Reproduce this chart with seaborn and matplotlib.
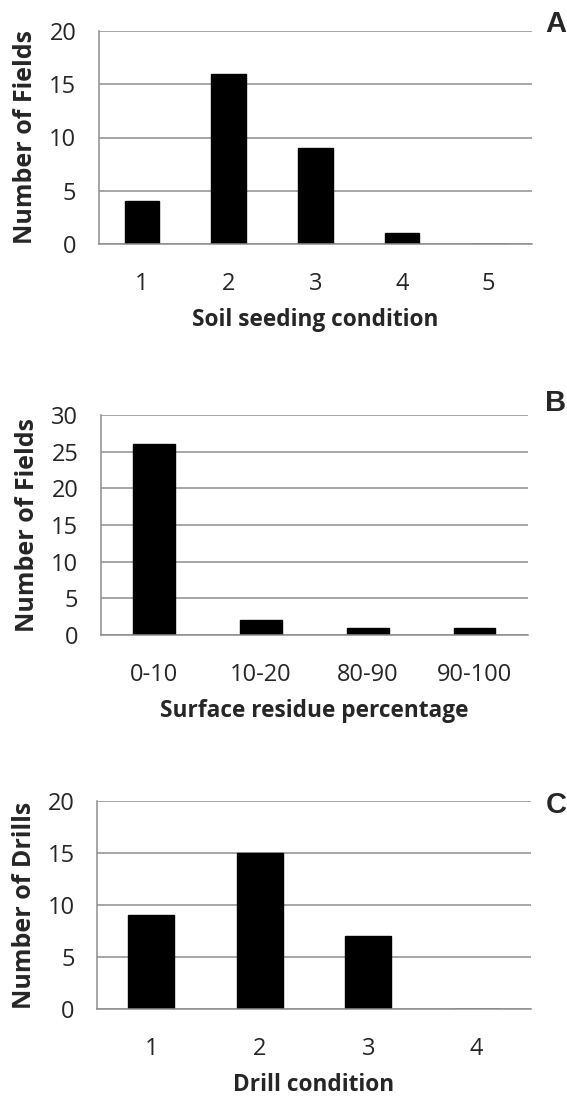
import numpy as np
import pandas as pd
import seaborn as sns
import matplotlib.pyplot as plt

soil_cats = ["1", "2", "3", "4", "5"]
soil_counts = [4, 16, 9, 1, 0]

residue_cats = ["0-10", "10-20", "80-90", "90-100"]
residue_counts = [26, 2, 1, 1]

drill_cats = ["1", "2", "3", "4"]
drill_counts = [9, 15, 7, 0]

sns.set_style("white")
plt.rcParams["font.family"] = ["Open Sans", "DejaVu Sans"]

W, H = 567, 1097
fig = plt.figure(figsize=(W / 100, H / 100), dpi=100)

# (cats, counts, ymax, ylabel, xlabel, letter, axes box in px [l, r, top, bottom], bar width, minor ticks, letter y px)
panels = [
    (soil_cats, soil_counts, 20, "Number of Fields", "Soil seeding condition", "A",
     (98.5, 532, 31, 244), 0.40, True, 24),
    (residue_cats, residue_counts, 30, "Number of Fields", "Surface residue percentage", "B",
     (100.5, 528, 415, 635), 0.39, True, 403),
    (drill_cats, drill_counts, 20, "Number of Drills", "Drill condition", "C",
     (97, 531, 801, 1009), 0.42, False, 805),
]

grid_col = "#8e8e8e"
for cats, counts, ymax, ylab, xlab, letter, box, bw, minor, ly in panels:
    l, r, t, b = box
    ax = fig.add_axes([l / W, 1 - b / H, (r - l) / W, (b - t) / H])
    df = pd.DataFrame({"cat": cats, "n": counts})
    sns.barplot(data=df, x="cat", y="n", color="black", width=bw, ax=ax,
                saturation=1, edgecolor="black")
    ax.set_xlim(-0.5, len(cats) - 0.5)
    ax.set_ylim(0, ymax)
    ax.set_yticks(np.arange(0, ymax + 1, 5))
    ax.yaxis.grid(True, color=grid_col, linewidth=1.1)
    ax.set_axisbelow(True)
    for s in ["top", "right"]:
        ax.spines[s].set_visible(False)
    for s in ["left", "bottom"]:
        ax.spines[s].set_color(grid_col)
        ax.spines[s].set_linewidth(1.1)
    ax.tick_params(axis="y", length=0, pad=16, labelsize=17)
    ax.tick_params(axis="x", which="major", length=0, pad=20, labelsize=17)
    if minor:
        ax.set_xticks(np.arange(-0.5, len(cats), 1.0), minor=True)
        ax.tick_params(axis="x", which="minor", length=4, color=grid_col,
                       width=1.1, direction="out")
    ax.set_ylabel(ylab, fontsize=18, fontweight="bold", labelpad=8)
    ax.set_xlabel(xlab, fontsize=16.3, fontweight="bold", labelpad=9)
    fig.text(556 / W, 1 - ly / H, letter, fontsize=21, fontweight="bold",
             family="Liberation Sans", ha="center", va="center")

fig.savefig("out.png", dpi=100)
